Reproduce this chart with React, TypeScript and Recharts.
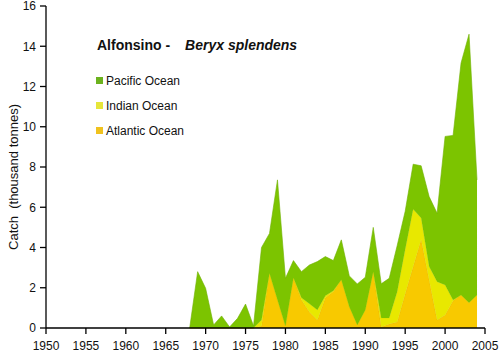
import React from 'react';
import { AreaChart, Area, XAxis, YAxis } from 'recharts';

const years = [
  1968, 1969, 1970, 1971, 1972, 1973, 1974, 1975, 1976, 1977, 1978, 1979,
  1980, 1981, 1982, 1983, 1984, 1985, 1986, 1987, 1988, 1989, 1990, 1991,
  1992, 1993, 1994, 1995, 1996, 1997, 1998, 1999, 2000, 2001, 2002, 2003, 2004,
];

// catch in thousand tonnes
const atlantic = [
  0, 0, 0, 0, 0, 0, 0, 0, 0, 0.1, 2.72, 1.4,
  0.1, 2.5, 1.4, 0.8, 0.4, 1.5, 1.8, 2.4, 1.06, 0.15, 0.9, 2.8,
  0.05, 0.2, 0.3, 1.7, 3.05, 4.4, 2.4, 0.4, 0.65, 1.35, 1.64, 1.26, 1.64,
];
const indian = [
  0, 0, 0, 0, 0, 0, 0, 0, 0, 0.3, 0, 0,
  0, 0, 0.1, 0.4, 0.5, 0.1, 0.05, 0, 0, 0, 0, 0,
  0.45, 0.3, 1.5, 2.2, 2.85, 1.06, 0.65, 1.9, 1.49, 0.04, 0, 0, 0,
];
const pacific = [
  0, 2.8, 1.97, 0.15, 0.6, 0.05, 0.48, 1.19, 0.1, 3.6, 1.98, 5.96,
  2.37, 0.85, 1.3, 1.93, 2.4, 1.95, 1.5, 1.98, 1.53, 2.04, 1.62, 2.2,
  1.7, 1.97, 2.3, 1.9, 2.24, 2.6, 3.48, 3.4, 7.38, 8.18, 11.53, 13.34, 5.72,
];

const xTicks = [1950, 1955, 1960, 1965, 1970, 1975, 1980, 1985, 1990, 1995, 2000, 2005];
const yTicks = [0, 2, 4, 6, 8, 10, 12, 14, 16];

const series = [
  { key: 'pacific', name: 'Pacific Ocean', fill: '#7cc400', stroke: '#6fb000', swatch: '#6cb21e' },
  { key: 'indian', name: 'Indian Ocean', fill: '#e8e800', stroke: '#d6d600', swatch: '#e6e63a' },
  { key: 'atlantic', name: 'Atlantic Ocean', fill: '#f8c900', stroke: '#e0b200', swatch: '#f0c21e' },
];

const font = '"Liberation Sans", Arial, sans-serif';

const data = years.map((year, i) => ({
  year,
  atlantic: atlantic[i],
  indian: indian[i],
  pacific: pacific[i],
}));

const LegendBox = () => (
  <div style={{ position: 'absolute', left: 96, top: 37, fontFamily: font, color: '#111' }}>
    <div style={{ fontSize: 14, fontWeight: 'bold', lineHeight: '16px', whiteSpace: 'pre', paddingLeft: 1 }}>
      Alfonsino -<span style={{ fontStyle: 'italic', marginLeft: 15 }}>Beryx splendens</span>
    </div>
    <div style={{ marginTop: 15 }}>
      {series.map((s) => (
        <div key={s.key} style={{ display: 'flex', alignItems: 'center', height: 25, fontSize: 12 }}>
          <span style={{ width: 7, height: 7, background: s.swatch, marginRight: 3 }} />
          <span>{s.name}</span>
        </div>
      ))}
    </div>
  </div>
);

const YLabel = () => (
  <text
    x={13}
    y={177}
    transform="rotate(-90 13 177)"
    textAnchor="middle"
    dominantBaseline="central"
    fontSize={13}
    fill="#111"
    style={{ whiteSpace: 'pre', fontFamily: font }}
  >
    Catch  (thousand tonnes)
  </text>
);

const App: React.FC = () => {
  return (
    <div style={{ position: 'absolute', left: 0, top: 0, width: 500, height: 353, fontFamily: font }}>
      <AreaChart width={500} height={353} data={data} margin={{ top: 6, right: 15, bottom: 0, left: 0 }}>
        <XAxis
          dataKey="year"
          type="number"
          domain={[1950, 2005]}
          ticks={xTicks}
          interval={0}
          height={25}
          tickSize={6}
          tickMargin={7}
          axisLine={{ stroke: '#000', strokeWidth: 1.3 }}
          tickLine={{ stroke: '#000', strokeWidth: 1.3 }}
          tick={{ fill: '#111', fontSize: 12, fontFamily: font }}
        />
        <YAxis
          domain={[0, 16]}
          ticks={yTicks}
          interval={0}
          width={46}
          tickSize={6}
          tickMargin={4}
          axisLine={{ stroke: '#000', strokeWidth: 1.3 }}
          tickLine={{ stroke: '#000', strokeWidth: 1.3 }}
          tick={{ fill: '#111', fontSize: 12, fontFamily: font }}
          label={<YLabel />}
        />
        <Area type="linear" dataKey="atlantic" stackId="1" fill={series[2].fill} stroke={series[2].stroke} strokeWidth={0.6} fillOpacity={1} isAnimationActive={false} />
        <Area type="linear" dataKey="indian" stackId="1" fill={series[1].fill} stroke={series[1].stroke} strokeWidth={0.6} fillOpacity={1} isAnimationActive={false} />
        <Area type="linear" dataKey="pacific" stackId="1" fill={series[0].fill} stroke={series[0].stroke} strokeWidth={0.6} fillOpacity={1} isAnimationActive={false} />
      </AreaChart>
      <LegendBox />
    </div>
  );
};

export default App;
